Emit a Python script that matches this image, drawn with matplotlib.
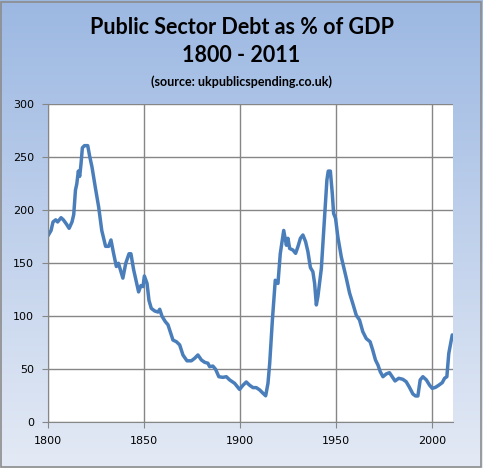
"""
Public sector debt as % of GDP, 1800 - 2011 (Excel-style line chart).
"""

import numpy as np
import matplotlib.pyplot as plt
from matplotlib.colors import LinearSegmentedColormap
from matplotlib.patches import Rectangle

# values
years = [
    1800, 1801.6, 1802.6, 1804, 1805, 1806.8, 1808, 1809.6, 1811, 1812.5,
    1813.4, 1814.3, 1815, 1815.8, 1816.5, 1817.2, 1817.9, 1819, 1820.7, 1821.7,
    1822.9, 1824.7, 1826.4, 1828, 1830, 1831.6, 1832.8, 1834.2, 1835.6, 1836.7,
    1837.7, 1839, 1840.5, 1842.2, 1843.2, 1844.6, 1847.2, 1848.4, 1849.5, 1850.2,
    1851.6, 1852.6, 1853.8, 1855.6, 1857.3, 1858.2, 1859.4, 1861.1, 1862.5, 1863.7,
    1865.1, 1866.9, 1868.6, 1870.3, 1872.4, 1874.7, 1876.4, 1878.1, 1879.9, 1881.6,
    1883.3, 1884.2, 1885.9, 1887.3, 1889, 1891.1, 1892.9, 1894.6, 1897.2, 1899.8,
    1901.6, 1903.3, 1905, 1906.8, 1908.5, 1910.3, 1912, 1913.4, 1914.6, 1915.5,
    1916.9, 1918.4, 1919.8, 1921, 1922.8, 1924.2, 1925, 1925.9, 1927.6, 1929,
    1930.2, 1931.5, 1932.8, 1934.2, 1935.4, 1936.7, 1938, 1938.9, 1939.8, 1940.6,
    1942.4, 1944.1, 1945.3, 1946, 1947.1, 1948.1, 1948.8, 1949.8, 1951, 1952.8,
    1955.4, 1957.1, 1958.8, 1960.6, 1962.3, 1964, 1965.8, 1967.8, 1969.2, 1970.6,
    1971.9, 1973.1, 1974.5, 1976.2, 1977.9, 1979.3, 1980.8, 1982.7, 1984.8, 1986.6,
    1988.3, 1990.1, 1991.5, 1992.7, 1993.9, 1995.3, 1997.1, 1998.8, 2000.2, 2001.9,
    2003.6, 2005.4, 2006.6, 2007.8, 2008.8, 2010.6,
]
debt_pct = [
    176, 181, 189, 191, 189, 193, 191, 187, 183, 189,
    196, 219, 225, 237, 232, 244, 259, 261, 261, 251,
    241, 221, 203, 181, 166, 166, 172, 159, 147, 150,
    144, 136, 150, 159, 159, 144, 123, 129, 128, 138,
    131, 115, 107.5, 105, 104, 106.6, 100, 95, 92, 85.5,
    77.6, 76, 73, 63.5, 58, 58, 60.4, 63.5, 58.8, 56.6,
    55.7, 52.5, 53, 50, 43, 42.4, 43, 40, 36.8, 31,
    35, 38, 35, 32.7, 32.7, 30.5, 27.4, 25, 36.8, 55.7,
    96.5, 134, 131, 159, 181, 167, 173.6, 164, 162.5, 159.4,
    165.7, 173.6, 176.7, 170.4, 161, 146, 142, 131, 110.7, 118.5,
    145, 194, 228.6, 237, 237, 216, 197, 192.5, 175, 156,
    136, 122, 112, 101, 96.5, 85.5, 79, 76, 68, 58.8,
    54, 47.7, 43, 45.6, 46.8, 43, 39, 41.5, 40.6, 38.3,
    33, 26.7, 24.8, 24.8, 40, 43, 40, 35, 32, 33,
    35, 37.4, 41.5, 43, 65, 82.4,
]
x_ticks = [1800, 1850, 1900, 1950, 2000]
y_ticks = [0, 50, 100, 150, 200, 250, 300]

fig = plt.figure(figsize=(4.83, 4.68), dpi=100)

# gradient background of the chart area
bg = fig.add_axes([0, 0, 1, 1], zorder=0)
grad = LinearSegmentedColormap.from_list("bg", ["#e4eaf5", "#9cb8e2"])
bg.imshow(np.linspace(0, 1, 256).reshape(-1, 1), aspect="auto", cmap=grad,
          origin="lower", extent=[0, 1, 0, 1])
bg.add_patch(Rectangle((0.002, 0.003), 0.994, 0.993, fill=False,
                       edgecolor="#8c8c8c", linewidth=1.2))
bg.set_xlim(0, 1)
bg.set_ylim(0, 1)
bg.axis("off")

ax = fig.add_axes([0.0994, 0.0977, 0.8385, 0.6794], zorder=1)
ax.set_facecolor("white")
ax.plot(years, debt_pct, color="#4a7ebb", linewidth=2.5,
        solid_joinstyle="round", solid_capstyle="round")

ax.set_xlim(1800, 2011)
ax.set_ylim(0, 300)
ax.set_xticks(x_ticks)
ax.set_yticks(y_ticks)
ax.grid(True, color="#868686", linewidth=1)
ax.set_axisbelow(True)
ax.tick_params(labelsize=8, length=4, color="#868686", pad=6)
for side in ["top", "right"]:
    ax.spines[side].set_visible(False)
for side in ["left", "bottom"]:
    ax.spines[side].set_color("#868686")

fig.text(0.5, 0.942, "Public Sector Debt as % of GDP", ha="center",
         va="center", fontsize=15.5, fontweight="bold", family="Lato")
fig.text(0.5, 0.881, "1800 - 2011", ha="center", va="center", fontsize=15.5,
         fontweight="bold", family="Lato")
fig.text(0.5, 0.825, "(source: ukpublicspending.co.uk)", ha="center",
         va="center", fontsize=9, fontweight="bold", family="Lato")

fig.savefig("out.png", dpi=100)
